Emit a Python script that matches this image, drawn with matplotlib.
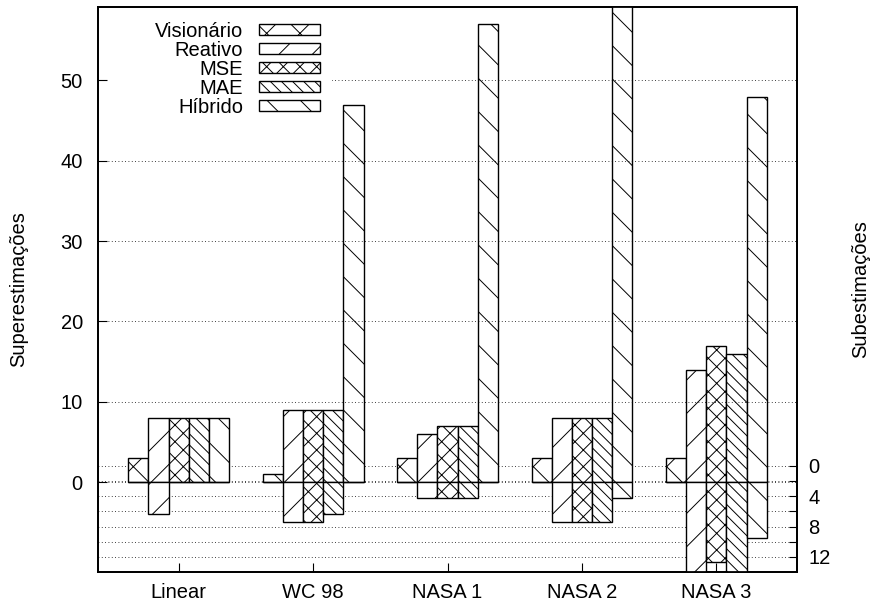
import matplotlib
matplotlib.use('Agg')
import matplotlib.pyplot as plt
from matplotlib.patches import Rectangle
import numpy as np

plt.rcParams['font.family'] = ['Liberation Sans', 'DejaVu Sans']
plt.rcParams['font.size'] = 14.5
plt.rcParams['hatch.linewidth'] = 0.7

# grupos e series
grupos = ['Linear', 'WC 98', 'NASA 1', 'NASA 2', 'NASA 3']
metodos = ['Visionário', 'Reativo', 'MSE', 'MAE', 'Híbrido']
hatches = ['x', '/', 'xx', '\\\\\\', '\\']

# superestimacoes (acima de zero)
sup_vis = [3, 1, 3, 3, 3]
sup_rea = [8, 9, 6, 8, 14]
sup_mse = [8, 9, 7, 8, 17]
sup_mae = [8, 9, 7, 8, 16]
sup_hib = [8, 47, 57, 62, 48]

# subestimacoes (desenhadas para baixo)
sub_vis = [0, 0, 0, 0, 0]
sub_rea = [4, 5, 2, 5, 13]
sub_mse = [0, 5, 2, 5, 10]
sub_mae = [0, 4, 2, 5, 13]
sub_hib = [0, 0, 0, 2, 7]

sup = [sup_vis, sup_rea, sup_mse, sup_mae, sup_hib]
sub = [sub_vis, sub_rea, sub_mse, sub_mae, sub_hib]

fig = plt.figure(figsize=(8.73, 6.08), dpi=100)
ax = fig.add_axes([0.1123, 0.0592, 0.8007, 0.9293])
ax2 = ax.twinx()
ax.set_zorder(ax2.get_zorder() + 1)
ax.patch.set_visible(False)

w = 0.15
x = np.arange(len(grupos))
for k in range(5):
    xs = x + (k - 2) * w
    ax.bar(xs, sup[k], w, color='white', edgecolor='black', linewidth=1.0,
           hatch=hatches[k], label=metodos[k])
    ax.bar(xs, [-v for v in sub[k]], w, color='white', edgecolor='black',
           linewidth=1.0, hatch=hatches[k])

ax.set_xlim(-0.6, 4.6)
ax.set_ylim(-11.2, 59.15)
ax.set_xticks(x)
ax.set_xticklabels(grupos)
ax.set_yticks([0, 10, 20, 30, 40, 50])
ax.tick_params(axis='x', direction='in', length=6.5, pad=8, top=False)
ax.tick_params(axis='y', direction='in', length=6.5, pad=11, right=False)
ax.yaxis.grid(True, color='black', linewidth=0.6, linestyle=(0, (1, 3)))
ax.set_ylabel('Superestimações')
ax.yaxis.set_label_coords(-0.10, 0.5)

ax2.set_ylim(14, -60.5)
ax2.set_yticks(range(0, 13, 2))
ax2.set_yticklabels(['0', '', '4', '', '8', '', '12'])
ax2.tick_params(axis='y', direction='in', length=6, pad=8)
ax2.yaxis.grid(True, color='black', linewidth=0.6, linestyle=(0, (1, 3)))
ax2.set_ylabel('Subestimações')
ax2.yaxis.set_label_coords(1.077, 0.5)

for a in (ax, ax2):
    for s in a.spines.values():
        s.set_linewidth(1.3)

# fundo branco da legenda (como a caixa do gnuplot)
ax.add_patch(Rectangle((0.014, 0.80), 0.32, 0.19, transform=ax.transAxes,
                       facecolor='white', edgecolor='none', zorder=3))

leg = ax.legend(loc='upper right', bbox_to_anchor=(0.326, 0.985), markerfirst=False,
                handlelength=3.0, handleheight=0.5, handletextpad=0.8,
                labelspacing=0.0, borderpad=0.3, borderaxespad=0,
                frameon=True, fancybox=False, framealpha=1)
leg.get_frame().set_edgecolor('none')
leg.get_frame().set_facecolor('white')

fig.savefig('out.png', dpi=100)
